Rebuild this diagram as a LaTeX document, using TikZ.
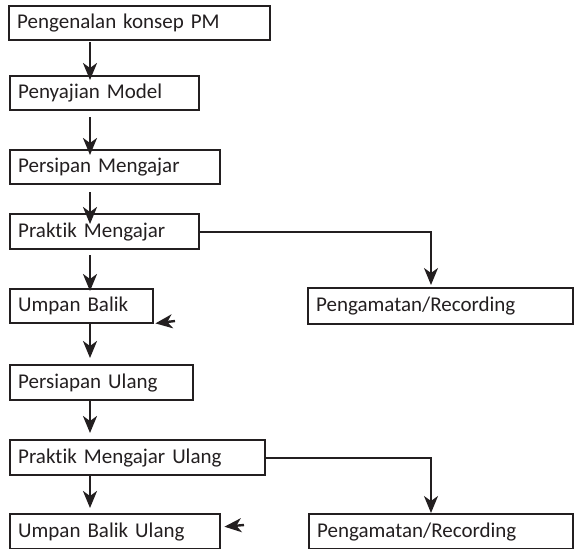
\documentclass[tikz,border=0pt]{standalone}
\usepackage{fontspec}
\setmainfont{Carlito}[Ligatures={NoCommon,NoContextual}, Contextuals=NoAlternate]
\usetikzlibrary{arrows, arrows.meta}
\usetikzlibrary{calc}
\definecolor{ink}{HTML}{231F20}

\begin{document}
\begin{tikzpicture}[x=1pt, y=-1pt,
    stepbox/.style={draw=ink, text=ink, line width=2.4pt, anchor=north west, minimum height=34pt,
      inner xsep=8pt, inner ysep=0pt, align=left, text width=#1, font=\fontsize{21}{24}\selectfont},
    flow/.style={draw=ink, line width=2.4pt, -{Stealth[length=17pt, width=14pt, inset=5pt]}},
    side/.style={draw=ink, line width=1.9pt, -{Stealth[length=17pt, width=14pt, inset=5pt]}}]
      \useasboundingbox (0, 0) rectangle (576, 549);

      \node[stepbox=245pt] (konsep) at (8, 5) {Pengenalan konsep PM};
      \node[stepbox=173pt] (model) at (9, 75) {Penyajian Model};
      \node[stepbox=194pt] (persipan) at (9, 149) {Persipan Mengajar};
      \node[stepbox=173pt, minimum height=35pt] (praktik) at (9, 213) {Praktik Mengajar};
      \node[stepbox=127pt] (balik) at (9, 288) {Umpan Balik};
      \node[stepbox=167pt, minimum height=35pt] (ulang) at (9, 364) {Persiapan Ulang};
      \node[stepbox=239pt, minimum height=35pt] (praktikU) at (9, 439) {Praktik Mengajar Ulang};
      \node[stepbox=194pt, minimum height=35pt] (balikU) at (9, 513) {Umpan Balik Ulang};
      \node[stepbox=249pt, minimum height=36pt] (rec) at (307, 287) {Pengamatan/Recording};
      \node[stepbox=248pt, minimum height=35pt] (recU) at (308, 513) {Pengamatan/Recording};

      \coordinate (xa) at (90, 0);
      \coordinate (xb) at (431, 0);
      \coordinate (fb) at (175, 321);
      \coordinate (fbU) at (244, 525);

      \draw[flow] ([yshift=-1pt]konsep.south -| xa) -- ([yshift=-5pt]model.north -| xa);
      \draw[flow] ([yshift=-6pt]model.south -| xa) -- ([yshift=-6pt]persipan.north -| xa);
      \draw[flow] ([yshift=-7pt]persipan.south -| xa) -- ([yshift=-11pt]praktik.north -| xa);
      \draw[flow] ([yshift=-5pt]praktik.south -| xa) -- ([yshift=-3pt]balik.north -| xa);
      \draw[flow] (balik.south -| xa) -- ([yshift=6pt]ulang.north -| xa);
      \draw[flow] (ulang.south -| xa) -- ([yshift=6pt]praktikU.north -| xa);
      \draw[flow] (praktikU.south -| xa) -- ([yshift=5pt]balikU.north -| xa);

      \draw[side] (praktik.east) -| ([yshift=2pt]rec.north -| xb);
      \draw[side] (praktikU.east) -| ([yshift=0pt]recU.north -| xb);

      \draw[flow] (fb) -- ([shift={(1pt,1pt)}]balik.south east);
      \draw[flow] (fbU) -- ([shift={(3pt,5pt)}]balikU.east);
    \end{tikzpicture}
\end{document}
